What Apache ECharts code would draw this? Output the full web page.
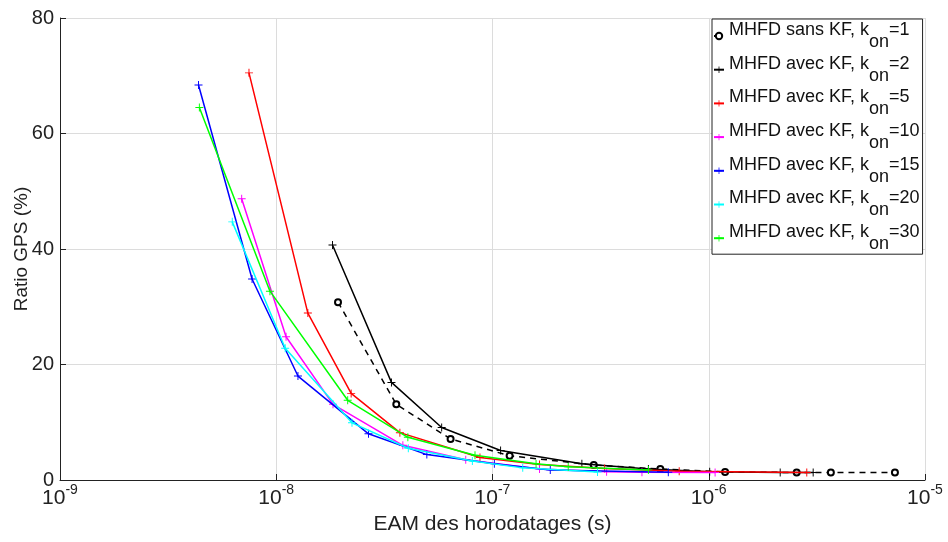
<!DOCTYPE html>
<html>
<head>
<meta charset="utf-8">
<script src="https://cdn.jsdelivr.net/npm/echarts@6/dist/echarts.min.js"></script>
<style>html,body{margin:0;padding:0;background:#fff}#c{width:948px;height:542px}</style>
</head>
<body>
<div id="c"></div>
<script>
// Data: [EAM (s), Ratio GPS (%)]
const seriesNames = ['MHFD sans KF, k_on=1','MHFD avec KF, k_on=2','MHFD avec KF, k_on=5','MHFD avec KF, k_on=10','MHFD avec KF, k_on=15','MHFD avec KF, k_on=20','MHFD avec KF, k_on=30'];
const konValues = ['1','2','5','10','15','20','30'];
const sansKF_k1 = [[1.93e-8,30.8],[3.59e-8,13.1],[6.4e-8,7.1],[1.2e-7,4.2],[2.94e-7,2.6],[5.97e-7,1.9],[1.19e-6,1.4],[2.55e-6,1.3],[3.67e-6,1.3],[7.26e-6,1.3]];
const avecKF_k2 = [[1.82e-8,40.7],[3.41e-8,16.9],[5.82e-8,9.1],[1.09e-7,5.1],[2.59e-7,2.8],[5.26e-7,1.9],[1.01e-6,1.45],[2.14e-6,1.3],[3.04e-6,1.3]];
const avecKF_k5 = [[7.48e-9,70.5],[1.40e-8,28.9],[2.22e-8,15.0],[3.73e-8,8.2],[8.75e-8,3.9],[1.65e-7,2.7],[3.3e-7,2.0],[7.3e-7,1.5],[2.84e-6,1.3]];
const avecKF_k10 = [[6.92e-9,48.7],[1.11e-8,24.8],[1.83e-8,13.1],[3.85e-8,6.0],[7.52e-8,3.5],[1.65e-7,1.9],[3.37e-7,1.45],[4.91e-7,1.35],[1.07e-6,1.3]];
const avecKF_k15 = [[4.37e-9,68.4],[7.73e-9,34.8],[1.26e-8,18.0],[2.67e-8,8.0],[4.97e-8,4.4],[1.02e-7,2.8],[1.85e-7,1.75],[6.5e-7,1.35]];
const avecKF_k20 = [[6.26e-9,44.7],[1.10e-8,22.8],[2.24e-8,9.9],[4.08e-8,5.5],[8.07e-8,3.3],[1.38e-7,2.1],[3.06e-7,1.4]];
const avecKF_k30 = [[4.41e-9,64.5],[9.35e-9,32.7],[2.14e-8,13.8],[4.06e-8,7.4],[8.3e-8,4.3],[1.59e-7,2.8],[2.24e-7,2.3],[5.26e-7,1.75]];
const yTicks = [0,20,40,60,80];
const xTickExponents = ['-9','-8','-7','-6','-5'];

const allData = [sansKF_k1, avecKF_k2, avecKF_k5, avecKF_k10, avecKF_k15, avecKF_k20, avecKF_k30];
const colors = ['#000000','#000000','#ff0000','#ff00ff','#0000ff','#00ffff','#00ff00'];
const plus = 'path://M0,4.4H10V5.6H0Z M4.4,0H5.6V10H4.4Z';
const FONT = '"Liberation Sans", Arial, sans-serif';

const series = allData.map((d, i) => ({
  name: seriesNames[i],
  type: 'line',
  data: d,
  symbol: i === 0 ? 'emptyCircle' : plus,
  symbolSize: i === 0 ? 6 : 8,
  showSymbol: true,
  animation: false,
  z: 2 + i,
  lineStyle: { color: colors[i], width: 1.5, type: i === 0 ? [6, 5] : 'solid' },
  itemStyle: { color: colors[i], borderColor: colors[i], borderWidth: i === 0 ? 1.3 : 0 }
}));

const chart = echarts.init(document.getElementById('c'), null, { renderer: 'canvas' });
chart.setOption({
  backgroundColor: '#fff',
  animation: false,
  textStyle: { fontFamily: FONT },
  grid: { left: 60, right: 23, top: 18, bottom: 62, containLabel: false, outerBoundsMode: 'none' },
  xAxis: {
    type: 'log', logBase: 10, min: 1e-9, max: 1e-5,
    name: 'EAM des horodatages (s)', nameLocation: 'middle', nameGap: 34,
    nameTextStyle: { fontSize: 21, color: '#222', fontFamily: FONT },
    axisLine: { show: true, onZero: false, lineStyle: { color: '#222', width: 1 } },
    axisTick: { show: true, inside: true, length: 6, lineStyle: { color: '#222' } },
    minorTick: { show: false },
    splitLine: { show: true, lineStyle: { color: '#dcdcdc', width: 1 } },
    axisLabel: {
      margin: 3, color: '#222',
      formatter: function (v) {
        const e = Math.round(Math.log10(v));
        return '{a|10}{s|' + e + '}';
      },
      rich: {
        a: { fontSize: 21, fontFamily: FONT, color: '#222', padding: [5, 0, 0, 0] },
        s: { fontSize: 14, fontFamily: FONT, color: '#222', padding: [0, 0, 12, 0] }
      }
    }
  },
  yAxis: {
    type: 'value', min: 0, max: 80, interval: 20,
    name: 'Ratio GPS (%)', nameLocation: 'middle', nameGap: 29, nameRotate: 90,
    nameMoveOverlap: false,
    nameTextStyle: { fontSize: 19, color: '#222', fontFamily: FONT },
    axisLine: { show: true, lineStyle: { color: '#222', width: 1 } },
    axisTick: { show: true, inside: true, length: 6, lineStyle: { color: '#222' } },
    splitLine: { show: true, lineStyle: { color: '#dcdcdc', width: 1 } },
    axisLabel: { fontSize: 20, color: '#222', margin: 6, fontFamily: FONT }
  },
  legend: {
    orient: 'vertical', left: 712, top: 19,
    padding: [2, 3, 1, 1], itemGap: 3.7,
    itemWidth: 10, itemHeight: 8,
    backgroundColor: '#fff', borderColor: '#222', borderWidth: 1, borderRadius: 0,
    data: seriesNames,
    formatter: function (name) {
      const i = seriesNames.indexOf(name);
      const pre = i === 0 ? 'MHFD sans KF, k' : 'MHFD avec KF, k';
      return '{a|' + pre + '}{b|on}{a|=' + konValues[i] + '}';
    },
    textStyle: {
      color: '#111',
      rich: {
        a: { fontSize: 18, fontFamily: FONT, color: '#111', padding: [0, 0, 12, 0] },
        b: { fontSize: 18, fontFamily: FONT, color: '#111', padding: [12, 0, 0, 0] }
      }
    }
  },
  series: series
});
</script>
</body>
</html>
